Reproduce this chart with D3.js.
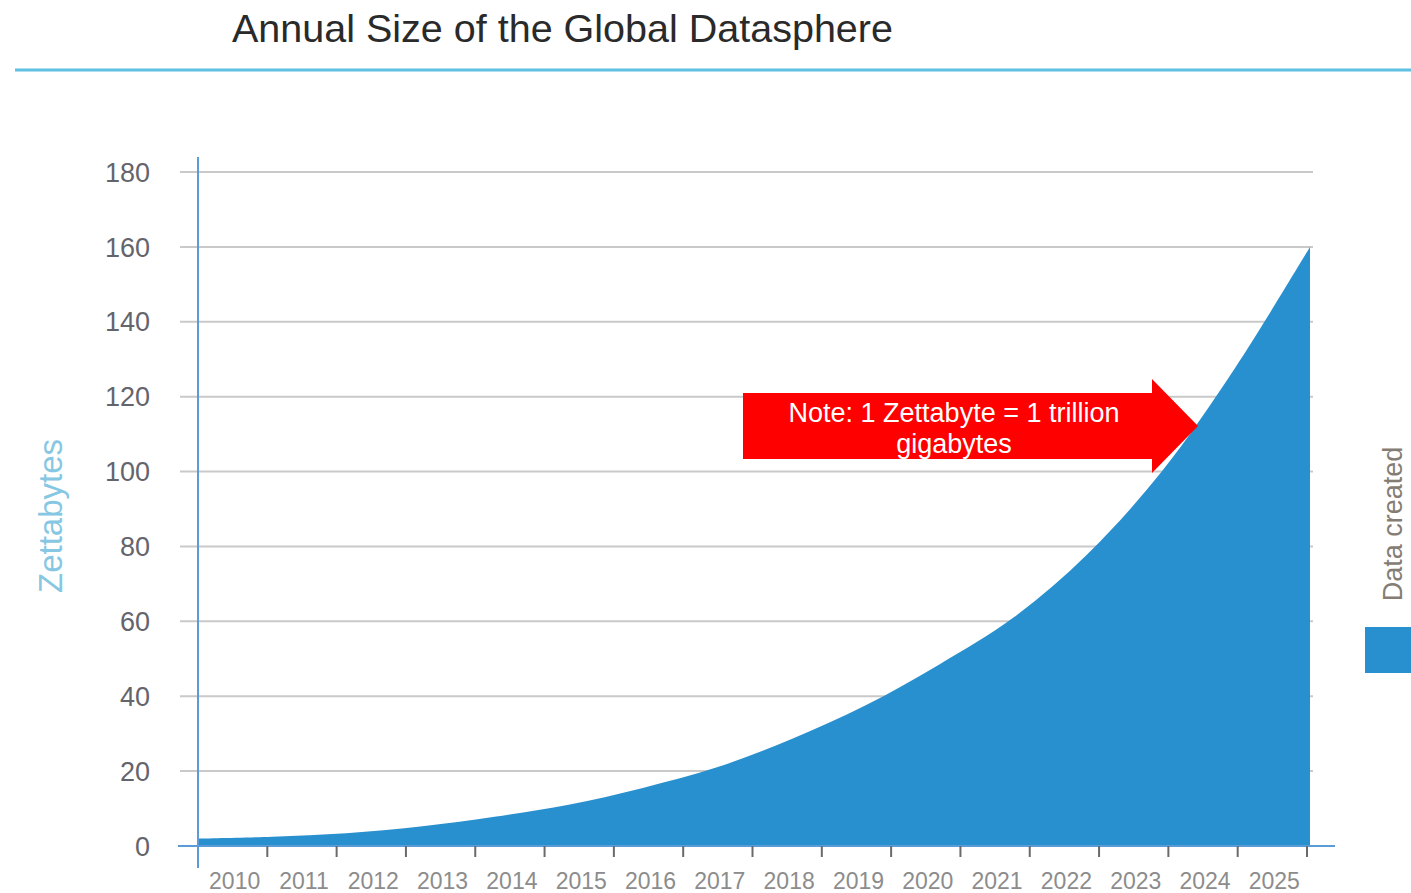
<!DOCTYPE html>
<html>
<head>
<meta charset="utf-8">
<script src="https://cdn.jsdelivr.net/npm/d3@7"></script>
<style>
  html, body { margin: 0; padding: 0; background: #fff; }
  svg { display: block; font-family: "Liberation Sans", Arial, sans-serif; }
</style>
</head>
<body>
<svg id="chart" width="1411" height="893"></svg>
<script>
// ---- data ----
const years = [2010, 2011, 2012, 2013, 2014, 2015, 2016, 2017, 2018, 2019, 2020, 2021, 2022, 2023, 2024, 2025];
const dataCreated = [2, 2.5, 3.4, 5.2, 7.8, 11, 15.5, 21, 28.5, 37.5, 48.5, 61, 78, 100, 128, 160];
const yTicks = [0, 20, 40, 60, 80, 100, 120, 140, 160, 180];
const title = "Annual Size of the Global Datasphere";
const yTitle = "Zettabytes";
const seriesName = "Data created";
const noteLines = ["Note: 1 Zettabyte = 1 trillion", "gigabytes"];

const svg = d3.select("#chart");
const areaColor = "#2890cf";
const axisBlue = "#5b9bd8";

// title + rule
svg.append("text").attr("x", 232).attr("y", 42)
  .attr("font-size", 39.5).attr("fill", "#2a2a2a").text(title);
svg.append("line").attr("x1", 15).attr("x2", 1411).attr("y1", 70).attr("y2", 70)
  .attr("stroke", "#5fc0e4").attr("stroke-width", 3);

// scales
const y = d3.scaleLinear().domain([0, 180]).range([846, 172]);
const xBand = d3.scaleBand().domain(years).range([198, 1307]);
const xPoint = d3.scalePoint().domain(years).range([198, 1310]);

// gridlines
svg.append("g").selectAll("line").data(yTicks.filter(d => d > 0)).join("line")
  .attr("x1", 180).attr("x2", 1313)
  .attr("y1", d => y(d)).attr("y2", d => y(d))
  .attr("stroke", "#c9c9c9").attr("stroke-width", 2);

// y labels
svg.append("g").selectAll("text").data(yTicks).join("text")
  .attr("x", 150).attr("y", d => y(d)).attr("dy", "0.36em")
  .attr("text-anchor", "end").attr("font-size", 27).attr("fill", "#64646c")
  .text(d => d);

// area
const area = d3.area()
  .x(d => xPoint(d.year))
  .y0(y(0))
  .y1(d => y(d.value))
  .curve(d3.curveCatmullRom.alpha(0.5));
const series = years.map((yr, i) => ({ year: yr, value: dataCreated[i] }));
svg.append("path").datum(series).attr("d", area).attr("fill", areaColor);

// axes lines
svg.append("line").attr("x1", 178).attr("x2", 1335).attr("y1", y(0)).attr("y2", y(0))
  .attr("stroke", axisBlue).attr("stroke-width", 2);
svg.append("line").attr("x1", 198).attr("x2", 198).attr("y1", 157).attr("y2", 868)
  .attr("stroke", axisBlue).attr("stroke-width", 2);

// x ticks (band boundaries)
svg.append("g").selectAll("line").data(years).join("line")
  .attr("x1", d => xBand(d) + xBand.bandwidth()).attr("x2", d => xBand(d) + xBand.bandwidth())
  .attr("y1", y(0)).attr("y2", y(0) + 11)
  .attr("stroke", "#6a6a6a").attr("stroke-width", 2);

// x labels
svg.append("g").selectAll("text").data(years).join("text")
  .attr("x", d => xBand(d) + xBand.bandwidth() / 2 + 2).attr("y", 889)
  .attr("text-anchor", "middle").attr("font-size", 23).attr("fill", "#8c8c8c")
  .text(d => d);

// y title
svg.append("text").attr("transform", "translate(62,516) rotate(-90)")
  .attr("text-anchor", "middle").attr("font-size", 33).attr("fill", "#86c7e3")
  .text(yTitle);

// legend
svg.append("text").attr("transform", "translate(1402,524) rotate(-90)")
  .attr("text-anchor", "middle").attr("font-size", 27).attr("fill", "#857d74")
  .text(seriesName);
svg.append("rect").attr("x", 1365).attr("y", 627).attr("width", 46).attr("height", 46)
  .attr("fill", areaColor);

// annotation arrow
const note = svg.append("g");
note.append("path")
  .attr("d", "M743,393 H1152 V379 L1198,426 L1152,473 V459 H743 Z")
  .attr("fill", "#ff0000");
note.selectAll("text").data(noteLines).join("text")
  .attr("x", 954).attr("y", (d, i) => 422 + i * 31)
  .attr("text-anchor", "middle").attr("font-size", 27).attr("fill", "#fff")
  .text(d => d);
</script>
</body>
</html>
